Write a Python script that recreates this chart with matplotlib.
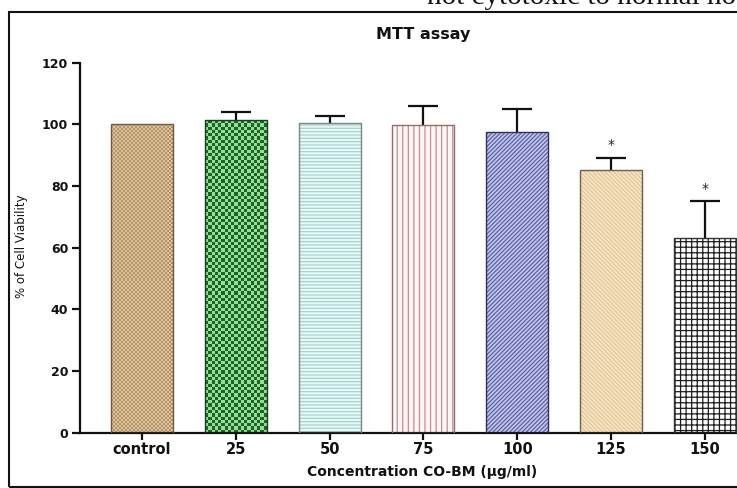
import numpy as np
import matplotlib
matplotlib.use('Agg')
import matplotlib.pyplot as plt
from matplotlib.colors import ListedColormap
from matplotlib.patches import Rectangle

# ---------------- data ----------------
categories = ['control', '25', '50', '75', '100', '125', '150']
viability = [100.0, 101.4, 100.5, 99.9, 97.6, 85.2, 63.0]
sd_upper = [0.0, 2.7, 2.3, 6.1, 7.4, 4.0, 12.0]
significant = [False, False, False, False, False, True, True]
yticks = [0, 20, 40, 60, 80, 100, 120]

title = 'MTT assay'
xlabel = 'Concentration CO-BM (\u03bcg/ml)'
ylabel = '% of Cell Viability'
page_text = 'not cytotoxic to normal ho'

# ---------------- styles ----------------
styles = [
    dict(kind='checker', c1='#dcc59e', c2='#b39363', cell=2.0),
    dict(kind='checker', c1='#94df93', c2='#1c6429', cell=3.3),
    dict(kind='hatch', face='#e6fbf7', hc='#a8cfca', hatch='-----'),
    dict(kind='hatch', face='#fff7f3', hc='#cd8891', hatch='|||'),
    dict(kind='hatch', face='#c4c7ec', hc='#5c60a4', hatch='////////'),
    dict(kind='hatch', face='#f7e5c4', hc='#e0c797', hatch='\\\\\\\\\\\\\\\\'),
    dict(kind='hatch', face='white', hc='#1e1e1e', hatch='+++'),
]
outline_colors = ['#6b5a40', '#1b3d1f', '#6f8a88', '#8a7070', '#2e3160', '#6e604a', '#333333']

W, H = 737, 488
fig = plt.figure(figsize=(W / 100, H / 100), dpi=100)
plt.rcParams['hatch.linewidth'] = 0.9

# axes geometry in pixels
x_unit = 93.8          # pixels per category
y0_px = 432.7          # pixel row of y=0 (from top)
y_top_px = 62.7        # pixel row of y=120
xlim = (-0.661, 6.66)
ylim = (0, 120)
ax_left = 80
ax_w = (xlim[1] - xlim[0]) * x_unit
ax_h = y0_px - y_top_px
ax = fig.add_axes([ax_left / W, (H - y0_px) / H, ax_w / W, ax_h / H])

x = np.arange(len(categories))
bar_w = 0.66
bars = ax.bar(x, viability, width=bar_w, linewidth=0, zorder=2)
y_unit = ax_h / (ylim[1] - ylim[0])
for b, st, v in zip(bars, styles, viability):
    if st['kind'] == 'hatch':
        b.set_facecolor(st['face'])
        b.set_edgecolor(st['hc'])
        b.set_linewidth(0)
        b.set_hatch(st['hatch'])
    else:
        b.set_facecolor(st['c1'])
        ncols = max(1, int(round(bar_w * x_unit / st['cell'])))
        nrows = max(1, int(round(v * y_unit / st['cell'])))
        img = np.add.outer(np.arange(nrows), np.arange(ncols)) % 2
        ax.imshow(img, cmap=ListedColormap([st['c1'], st['c2']]),
                  extent=[b.get_x(), b.get_x() + b.get_width(), 0, b.get_height()],
                  aspect='auto', interpolation='nearest', zorder=2.2)

# outlines
ax.bar(x, viability, width=bar_w, fill=False, edgecolor=outline_colors,
       linewidth=1.0, zorder=4)

# error bars (upper only, cap only at top)
mask = np.array(sd_upper) > 0
xe = x[mask]
ve = np.array(viability)[mask]
se = np.array(sd_upper)[mask]
ax.errorbar(xe, ve, yerr=[np.zeros_like(se), se], fmt='none', ecolor='#111111',
            elinewidth=1.6, capsize=0, zorder=3)
ax.plot(xe, ve + se, linestyle='none', marker='_', markersize=22,
        markeredgewidth=1.6, color='#111111', zorder=3)

# significance stars
for i, (v, s, sig) in enumerate(zip(viability, sd_upper, significant)):
    if sig:
        ax.text(i, v + s + 2.9, '*', ha='center', va='baseline', fontsize=10,
                color='#222222', zorder=5)

ax.set_xlim(*xlim)
ax.set_ylim(*ylim)
ax.set_yticks(yticks)
ax.set_yticklabels([str(t) for t in yticks], fontsize=9, fontweight='bold')
ax.set_xticks(x)
ax.set_xticklabels(categories, fontsize=10.5, fontweight='bold')
for side in ['top', 'right']:
    ax.spines[side].set_visible(False)
for side in ['left', 'bottom']:
    ax.spines[side].set_linewidth(1.6)
    ax.spines[side].set_color('#111111')
ax.tick_params(axis='y', length=6, width=1.6, pad=2.5, colors='#111111')
ax.tick_params(axis='x', length=5, width=1.6, pad=1.5, colors='#111111')
ax.set_facecolor('none')

# texts
fig.text(423.5 / W, 1 - 39.5 / H, title, ha='center', va='baseline',
         fontsize=11.5, fontweight='bold', color='#111111')
fig.text(422 / W, 1 - 472 / H, xlabel, ha='center', va='center',
         fontsize=10, fontweight='bold', color='#111111')
fig.text(22 / W, 1 - 246 / H, ylabel, ha='center', va='center', rotation=90,
         fontsize=8.5, color='#111111')
fig.text(427 / W, 1 - 4.5 / H, page_text, ha='left', va='baseline',
         fontsize=21, family='Liberation Serif', color='#111111')

# outer frame
frame = Rectangle((9 / W, 1.5 / H), 1.2, (H - 12 - 1.5) / H, transform=fig.transFigure,
                  fill=False, edgecolor='#111111', linewidth=1.5, zorder=0)
fig.patches.append(frame)

fig.savefig('out.png', dpi=100)
